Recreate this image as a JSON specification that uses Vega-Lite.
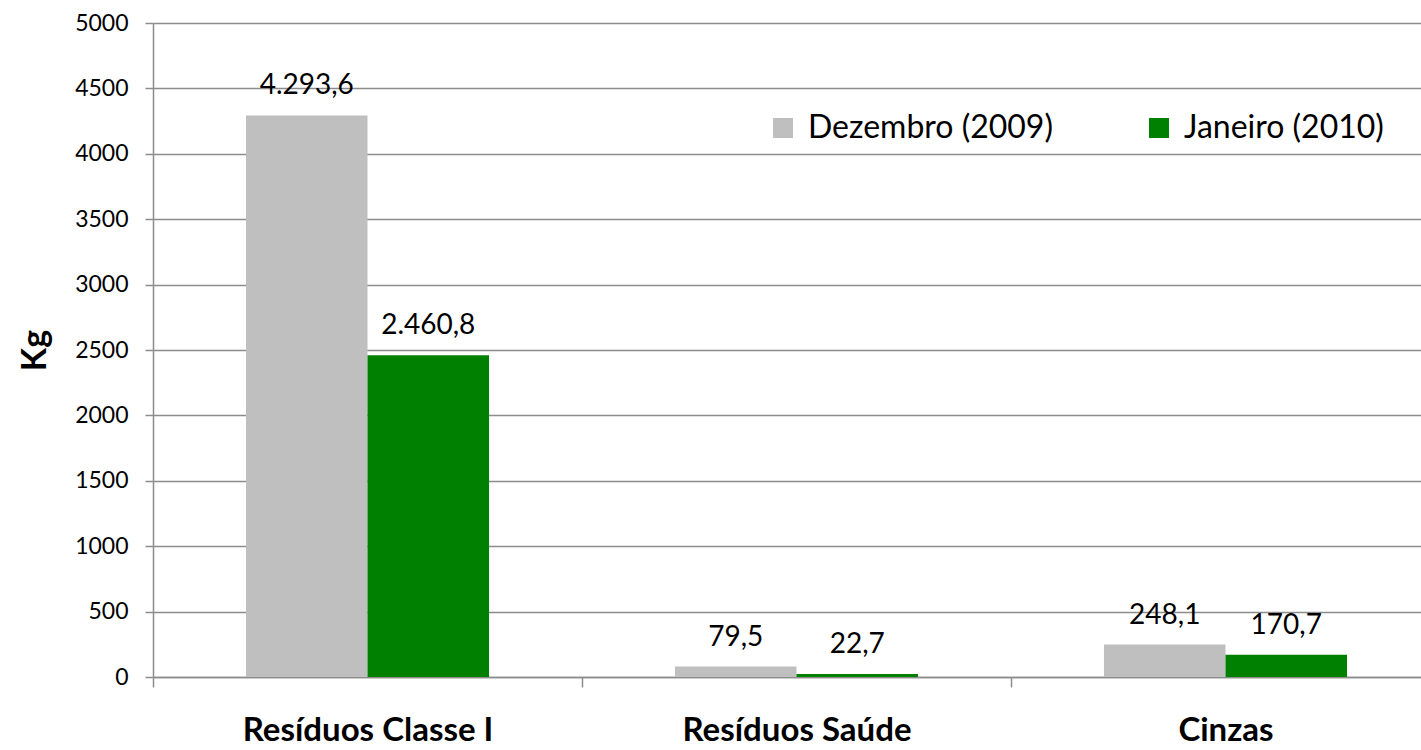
{
  "$schema": "https://vega.github.io/schema/vega-lite/v6.json",
  "width": 1287,
  "height": 654,
  "autosize": {"type": "none"},
  "padding": {"left": 153, "top": 23, "right": 0, "bottom": 73},
  "background": "white",
  "data": {
    "values": [
      {"categoria": "Resíduos Classe I", "serie": "Dezembro (2009)", "kg": 4293.6},
      {"categoria": "Resíduos Classe I", "serie": "Janeiro (2010)", "kg": 2460.8},
      {"categoria": "Resíduos Saúde", "serie": "Dezembro (2009)", "kg": 79.5},
      {"categoria": "Resíduos Saúde", "serie": "Janeiro (2010)", "kg": 22.7},
      {"categoria": "Cinzas", "serie": "Dezembro (2009)", "kg": 248.1},
      {"categoria": "Cinzas", "serie": "Janeiro (2010)", "kg": 170.7}
    ]
  },
  "encoding": {
    "x": {
      "field": "categoria",
      "type": "nominal",
      "sort": null,
      "scale": {"paddingInner": 0, "paddingOuter": 0},
      "axis": {
        "title": null,
        "labelAngle": 0,
        "labelLimit": 0,
        "tickBand": "extent",
        "tickSize": 10,
        "tickColor": "#8c8c8c",
        "tickWidth": 1.5,
        "domainColor": "#8c8c8c",
        "domainWidth": 1.5,
        "labelFontSize": 33,
        "labelFontWeight": "bold",
        "labelColor": "#000000",
        "labelPadding": 27,
        "grid": false
      }
    },
    "xOffset": {
      "field": "serie",
      "type": "nominal",
      "sort": null,
      "scale": {"paddingInner": 0, "paddingOuter": 0.765}
    },
    "y": {
      "field": "kg",
      "type": "quantitative",
      "scale": {"domain": [0, 5000], "nice": false},
      "axis": {
        "values": [0, 500, 1000, 1500, 2000, 2500, 3000, 3500, 4000, 4500, 5000],
        "format": "d",
        "title": "Kg",
        "titleFontSize": 34,
        "titleFontWeight": "bold",
        "titleColor": "#000000",
        "titlePadding": 22,
        "labelFontSize": 23,
        "labelColor": "#000000",
        "labelPadding": 17,
        "tickSize": 8,
        "tickColor": "#8c8c8c",
        "tickWidth": 1.5,
        "domainColor": "#8c8c8c",
        "domainWidth": 1.5,
        "grid": true,
        "gridColor": "#8c8c8c",
        "gridWidth": 1.3
      }
    }
  },
  "layer": [
    {
      "mark": {"type": "bar"},
      "encoding": {
        "color": {
          "field": "serie",
          "type": "nominal",
          "scale": {"domain": ["Dezembro (2009)", "Janeiro (2010)"], "range": ["#BFBFBF", "#008000"]},
          "legend": {
            "title": null,
            "orient": "none",
            "legendX": 614,
            "legendY": 89,
            "direction": "horizontal",
            "labelFontSize": 32,
            "labelLimit": 0,
            "labelColor": "#000000",
            "symbolType": "square",
            "symbolSize": 400,
            "symbolStrokeWidth": 0,
            "symbolOpacity": 1,
            "columnPadding": 90,
            "labelOffset": 9,
            "padding": 0
          }
        }
      }
    },
    {
      "mark": {"type": "text", "dy": -21, "baseline": "alphabetic", "fontSize": 28, "color": "#000000"},
      "encoding": {
        "text": {"field": "kg", "type": "quantitative", "format": ",.1f"}
      }
    }
  ],
  "config": {
    "font": "Lato",
    "view": {"stroke": null},
    "locale": {
      "number": {"decimal": ",", "thousands": ".", "grouping": [3], "currency": ["R$", ""]}
    }
  }
}
